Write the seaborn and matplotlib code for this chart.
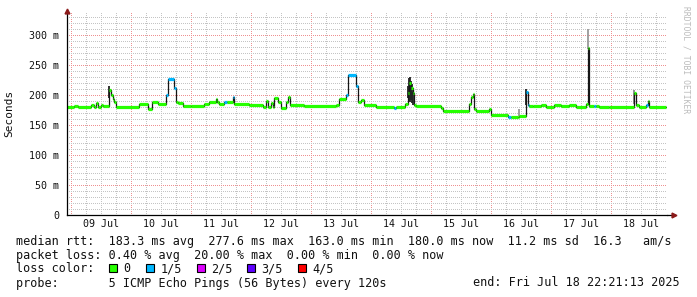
import numpy as np
import pandas as pd
import matplotlib
matplotlib.use("Agg")
import matplotlib.pyplot as plt
import matplotlib.transforms as mtrans
from matplotlib.patches import Rectangle
import seaborn as sns

# ---------------- data (hours since 2025-07-09 00:00, median rtt in ms) ----------------
med_hours = [-1.65, 1.3, 2.6, 7.9, 9.3, 9.9, 10.6, 11.9, 12.6, 15.3, 15.9, 16.6, 17.3, 17.9,
             27.3, 30.6, 32.3, 34.6, 37.9, 38.6, 41.3, 41.9, 42.6, 44.6, 47.9, 53.3, 55.3,
             57.9, 58.5, 59.3, 61.3, 62.5, 64.6, 65.3, 71.3, 76.6, 77.9, 78.6, 79.9, 80.6,
             81.3, 82.6, 83.9, 85.9, 86.6, 87.5, 93.3, 105.9, 107.0, 109.9, 110.6, 113.9,
             114.6, 115.9, 117.3, 121.9, 129.3, 129.9, 133.7, 134.6, 135.3, 135.9, 136.6,
             137.3, 137.9, 147.9, 148.6, 159.3, 159.9, 160.6, 161.3, 161.9, 167.3, 167.9,
             174.6, 175.9, 178.6, 179.3, 181.9, 182.6, 183.3, 184.6, 188.0, 190.0, 193.0,
             196.0, 199.0, 202.0, 205.9, 206.6, 207.3, 209.3, 210.0, 211.3, 215.3, 225.3,
             225.9, 227.3, 229.9, 230.6, 231.3, 237.9]
med_ms = [179.5, 181.7, 180.0, 182.8, 180.0, 187.0, 180.5, 183.0, 182.0, 208.0, 200.0, 194.0,
          189.0, 180.0, 185.0, 177.0, 188.0, 184.5, 200.0, 227.0, 211.0, 189.0, 186.0, 182.0,
          181.7, 184.5, 189.0, 194.0, 188.0, 185.5, 188.0, 188.0, 197.0, 185.0, 183.3, 180.0,
          190.0, 180.0, 187.0, 180.0, 194.5, 188.0, 179.0, 188.0, 197.0, 183.3, 181.0, 183.0,
          193.0, 200.0, 233.3, 215.0, 189.0, 191.0, 182.8, 180.0, 179.0, 180.0, 185.0, 204.0,
          219.5, 212.0, 203.0, 183.0, 182.2, 178.0, 173.3, 185.0, 197.0, 201.0, 177.0, 173.3,
          177.0, 166.7, 164.0, 163.0, 164.0, 165.5, 205.5, 183.3, 181.0, 181.7, 183.0, 180.5,
          182.5, 181.0, 183.0, 180.5, 185.0, 277.8, 182.0, 181.5, 181.7, 179.4, 180.5, 202.8,
          183.0, 179.4, 183.0, 190.0, 179.4, 179.4]
med_loss = [0, 0, 0, 0, 0, 0, 0, 0, 0, 0, 0, 0, 0, 0,
            0, 0, 0, 0, 1, 1, 1, 0, 0, 0, 0, 0, 0,
            0, 0, 0, 1, 0, 1, 0, 0, 0, 0, 0, 0, 0,
            0, 0, 0, 0, 0, 0, 0, 0, 0, 1, 1, 1,
            0, 0, 0, 0, 1, 0, 0, 0, 0, 0, 0,
            0, 0, 0, 0, 0, 0, 0, 0, 0, 0, 0,
            1, 0, 0, 0, 1, 1, 0, 0, 0, 0, 0,
            0, 0, 0, 0, 0, 0, 1, 0, 0, 0, 0,
            0, 0, 1, 0, 0, 0]

# smoke (spread of the pings) where it is visible
smoke_hours = [15.3, 134.6, 135.0, 135.4, 135.8, 136.2, 136.6, 179.3, 181.9, 206.6, 225.3]
smoke_lo = [195.0, 195.0, 190.0, 188.0, 192.0, 186.0, 183.0, 165.5, 183.0, 277.0, 185.0]
smoke_hi = [215.0, 215.0, 228.0, 230.0, 224.0, 218.0, 205.0, 177.0, 210.0, 310.0, 208.0]
smoke_shade = ["#222222", "#222222", "#222222", "#222222", "#222222", "#222222", "#222222",
               "#999999", "#222222", "#999999", "#888888"]

day_label_hours = [12, 36, 60, 84, 108, 132, 156, 180, 204, 228]
day_labels = ["09 Jul", "10 Jul", "11 Jul", "12 Jul", "13 Jul",
              "14 Jul", "15 Jul", "16 Jul", "17 Jul", "18 Jul"]
ytick_vals = [0, 50, 100, 150, 200, 250, 300]
ytick_labels = ["0", "50 m", "100 m", "150 m", "200 m", "250 m", "300 m"]

loss_labels = ["0", "1/5", "2/5", "3/5", "4/5"]
loss_colors = ["#26ff00", "#00b8ff", "#dd00ff", "#5e00ff", "#ff0000"]

line_rtt = "median rtt:  183.3 ms avg  277.6 ms max  163.0 ms min  180.0 ms now  11.2 ms sd  16.3   am/s"
line_loss = "packet loss: 0.40 % avg  20.00 % max  0.00 % min  0.00 % now"
line_probe = "probe:       5 ICMP Echo Pings (56 Bytes) every 120s"
line_end = "end: Fri Jul 18 22:21:13 2025"

# ---------------- figure ----------------
sns.set_style("white")
plt.rcParams["font.family"] = ["DejaVu Sans Mono", "DejaVu Sans"]

W, H = 697, 297
fig = plt.figure(figsize=(W / 100, H / 100), dpi=100)
fig.patch.set_facecolor("white")
ax = fig.add_axes([67 / W, (H - 215) / H, 600 / W, 203 / H])
ax.set_facecolor("white")

x0, x1 = -1.65, 238.35
ax.set_xlim(x0, x1)
ax.set_ylim(0, 338.3)

# grid (minor lines only where there is no major line)
major_col = "#ee9090"
minor_col = "#c4c4c4"
ax.set_xticks(np.arange(0, 217, 24))
ax.set_xticks([h for h in range(0, 238, 6) if h % 24], minor=True)
ax.set_yticks(ytick_vals, ytick_labels)
ax.set_yticks([v for v in range(0, 339, 10) if v % 50], minor=True)
ax.grid(which="minor", color=minor_col, linestyle=(0, (1, 2)), linewidth=0.72,
        antialiased=False, zorder=0)
ax.grid(which="major", color=major_col, linestyle=(0, (1, 1.5)), linewidth=0.72,
        antialiased=False, zorder=0)
ax.set_axisbelow(True)
ax.tick_params(axis="x", which="major", length=2.2, color=major_col, labelbottom=False)
ax.tick_params(axis="x", which="minor", length=2.2, color=minor_col)
ax.tick_params(axis="y", which="major", length=3, color=major_col, pad=2.5,
               labelsize=7.2, labelcolor="#111111")
ax.tick_params(axis="y", which="minor", length=1.5, color=minor_col)

for side in ["top", "right"]:
    ax.spines[side].set_visible(False)
for side in ["left", "bottom"]:
    ax.spines[side].set_color("black")
    ax.spines[side].set_linewidth(0.9)
    ax.spines[side].set_zorder(6)

# smoke
ax.vlines(smoke_hours, smoke_lo, smoke_hi, colors=smoke_shade, linewidth=1.3, zorder=2)

# median line (steps) and loss-coloured segments
df = pd.DataFrame({"hours": med_hours, "ms": med_ms, "loss": med_loss})
sns.lineplot(data=df, x="hours", y="ms", drawstyle="steps-post", color="#151515",
             linewidth=0.9, estimator=None, sort=False, ax=ax, zorder=3)
seg_cols = [loss_colors[l] for l in med_loss[:-1]]
ax.hlines(med_ms[:-1], med_hours[:-1], med_hours[1:], colors=seg_cols,
          linewidth=2.3, zorder=4)
ax.set_xlabel("")
ax.set_ylabel("Seconds", fontsize=8, color="#111111")
ax.yaxis.set_label_coords(-53 / 600, 0.5)

# axis arrows
arrow_col = "#8b1a1a"
ax.plot([1.0, 1.01], [0, 0], transform=ax.transAxes, color="black", lw=0.9,
        clip_on=False, zorder=6)
ax.plot([1.011], [0], marker=">", markersize=3.5, color=arrow_col,
        transform=ax.transAxes, clip_on=False, zorder=7)
ax.plot([0], [1.005], marker="^", markersize=3.5, color=arrow_col,
        transform=ax.transAxes, clip_on=False, zorder=7)

# day labels
trans = mtrans.blended_transform_factory(ax.transData, ax.transAxes)
for h, lab in zip(day_label_hours, day_labels):
    ax.text(h, -9 / 203, lab, transform=trans, ha="center", va="center",
            fontsize=7.2, color="#111111")

# watermark
fig.text(686 / W, 1 - 60 / H, "RRDTOOL / TOBI OETIKER", rotation=270, ha="center",
         va="center", fontsize=5.8, color="#bbbbbb")

# legend text lines
fs = 8.5
def fy(y):
    return 1 - y / H

fig.text(16 / W, fy(241), line_rtt, ha="left", va="center", fontsize=fs, color="#111111")
fig.text(16 / W, fy(255), line_loss, ha="left", va="center", fontsize=fs, color="#111111")
fig.text(16 / W, fy(269), "loss color:", ha="left", va="center", fontsize=fs, color="#111111")
box_x = [108.5, 146, 197, 247, 298]
for bx, lab, col in zip(box_x, loss_labels, loss_colors):
    fig.patches.append(Rectangle((bx / W, fy(272)), 8 / W, 8 / H, transform=fig.transFigure,
                                 facecolor=col, edgecolor="black", linewidth=0.8))
    fig.text((bx + 14.5) / W, fy(269), lab, ha="left", va="center", fontsize=fs, color="#111111")
fig.text(16 / W, fy(283), line_probe, ha="left", va="center", fontsize=fs, color="#111111")
fig.text(680 / W, fy(283), line_end, ha="right", va="center", fontsize=fs, color="#111111")

fig.savefig("out.png", dpi=100, facecolor="white")
